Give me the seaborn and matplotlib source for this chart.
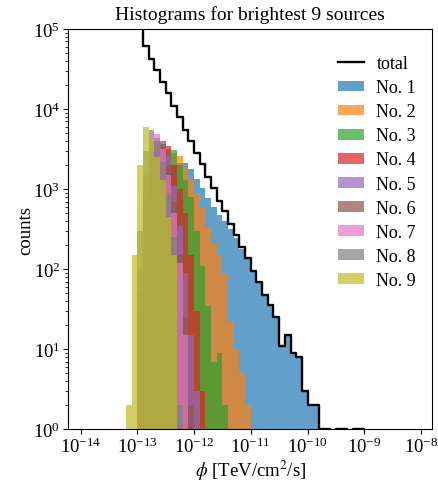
import numpy as np
import matplotlib
matplotlib.use("Agg")
import matplotlib.pyplot as plt
import seaborn as sns
from matplotlib.lines import Line2D
from matplotlib.patches import Patch
from matplotlib.colors import to_rgba
from matplotlib.ticker import NullLocator

plt.rcParams["font.family"] = ["Liberation Serif", "DejaVu Serif"]
plt.rcParams["mathtext.fontset"] = "stix"

# histogram bins: log10(phi), 10 bins per decade
bin_edges = [round(v / 10, 1) for v in range(-145, -77)]

# counts per bin; total starts at log10(phi) = -14.5, sources at -13.2
total_start = -14.5
total_counts = [900000, 760000, 640000, 540000, 460000, 390000, 330000, 280000,
                240000, 205000, 180000, 160000, 145000, 130000, 120000, 108000,
                61000, 42000, 31000, 21500, 15800, 10800, 7900, 5500, 4050, 2800,
                2050, 1420, 1040, 720, 530, 370, 270, 188, 137, 95, 69, 48, 36, 25,
                11, 15, 9, 8, 3, 2, 2, 1, 1, 0, 1, 1, 0, 1, 1]

src_start = -13.2
src1 = [0, 0, 2, 60, 350, 900, 1400, 1800, 2000, 2100,
        2150, 1780, 1350, 1020, 780, 600, 480, 400, 320, 245,
        180, 132, 92, 67, 47, 35, 25, 11, 15, 9, 8, 3, 2, 2]
src2 = [0, 0, 5, 150, 700, 1600, 2300, 2700, 2800, 2600,
        1900, 1300, 900, 600, 330, 210, 150, 90, 22, 10, 5, 2]
src3 = [0, 0, 10, 250, 1100, 2300, 3000, 3200, 3100, 2000,
        1300, 800, 300, 110, 35, 7, 9, 2]
src4 = [0, 0, 20, 400, 1600, 3000, 3400, 3500, 2000, 1000, 500, 150, 30, 3]
src5 = [0, 0, 30, 600, 2200, 3800, 3700, 2600, 1100, 350, 90, 15, 3]
src6 = [0, 0, 50, 900, 3000, 4300, 4000, 2000, 700, 150, 25, 2]
src7 = [0, 0, 100, 1500, 4000, 4900, 3200, 1500, 500, 120, 15]
src8 = [0, 0, 300, 3000, 5500, 4000, 2200, 900, 250, 2]
src9 = [2, 150, 2000, 5900, 4200, 2500, 1300, 450, 150]

sources = [src1, src2, src3, src4, src5, src6, src7, src8, src9]
labels = [f"No. {k}" for k in range(1, 10)]
colors = sns.color_palette("tab10")[:9]
alpha = 0.7


def bin_centers(start, counts):
    return 10 ** (start + 0.1 * np.arange(len(counts)) + 0.05)


fig, ax = plt.subplots(figsize=(4.39, 4.85), dpi=100)
fig.subplots_adjust(left=0.155, right=0.985, bottom=0.113, top=0.938)
ax.set_yscale("log")

for counts, c in zip(sources, colors):
    sns.histplot(x=bin_centers(src_start, counts), weights=counts, bins=bin_edges,
                 log_scale=True, element="step", fill=True, alpha=alpha,
                 color=c, linewidth=0, edgecolor="none", ax=ax)

sns.histplot(x=bin_centers(total_start, total_counts), weights=total_counts,
             bins=bin_edges, log_scale=True, element="step", fill=False,
             color="black", linewidth=1.7, ax=ax)

ax.set_xlim(10 ** -14.22, 10 ** -7.8)
ax.set_ylim(1, 1e5)
ax.set_xticks([10.0 ** p for p in range(-14, -7)])
ax.xaxis.set_minor_locator(NullLocator())
ax.tick_params(labelsize=13.5, pad=2)
ax.set_xlabel(r"$\phi$ [TeV/cm$^2$/s]", fontsize=13.5, labelpad=1)
ax.set_ylabel("counts", fontsize=13.5, labelpad=-1)
ax.set_title("Histograms for brightest 9 sources", fontsize=14, pad=7)

handles = [Line2D([], [], color="black", lw=1.7)]
handles += [Patch(facecolor=to_rgba(c, alpha), edgecolor="none") for c in colors]
ax.legend(handles, ["total"] + labels, loc="upper right", bbox_to_anchor=(1.0, 0.975),
          frameon=False, fontsize=13, handlelength=1.45, handleheight=0.55,
          handletextpad=0.7, labelspacing=0.39)

fig.savefig("out.png", dpi=100)
